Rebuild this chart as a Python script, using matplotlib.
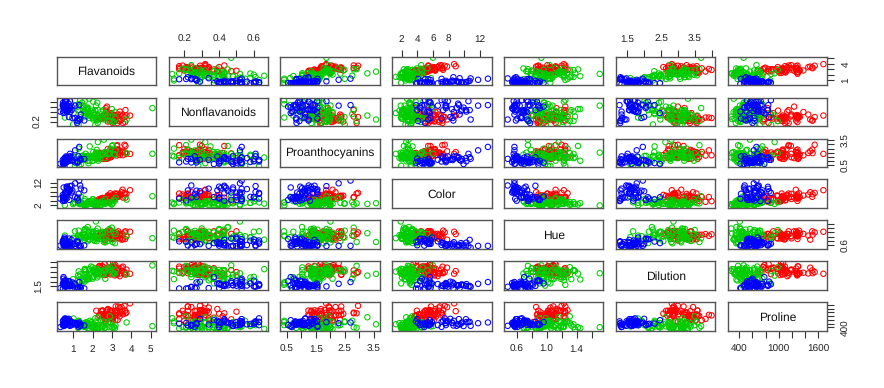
import matplotlib
matplotlib.use('Agg')
from matplotlib import pyplot as plt
import numpy as np

plt.rcParams['font.family'] = ['Liberation Sans', 'DejaVu Sans']
plt.rcParams['text.hinting'] = 'no_hinting'
plt.rcParams['text.hinting_factor'] = 1

class_counts = [59, 71, 48]
class_colors = ['#FF0000', '#00CD00', '#0000FF']

flavanoids = [3.06, 2.76, 3.24, 3.49, 2.69, 3.39, 2.52, 2.51, 2.98, 3.15, 3.32, 2.43, 2.76, 3.69, 3.64, 2.91, 3.14, 3.4, 3.93, 3.03,
              3.17, 2.41, 2.88, 2.37, 2.61, 2.68, 2.94, 2.19, 2.97, 2.33, 3.25, 3.19, 2.69, 2.74, 2.53, 2.98, 2.68, 2.43, 2.64, 3.04,
              3.29, 2.68, 3.56, 2.63, 3.0, 2.65, 3.17, 3.39, 2.92, 3.54, 3.27, 2.99, 3.74, 2.79, 2.9, 2.78, 3.0, 3.23, 3.67,
              0.57, 1.09, 1.41, 1.79, 3.1, 1.75, 2.65, 3.18, 2.0, 1.3, 1.28, 1.02, 2.86, 1.84, 2.89, 2.14, 1.57, 2.03, 1.32, 1.85,
              2.55, 2.26, 2.53, 1.58, 1.59, 2.21, 1.94, 1.69, 1.61, 1.69, 1.59, 1.5, 1.25, 1.46, 2.25, 2.26, 2.27, 0.99, 2.5, 3.75,
              2.99, 2.17, 1.36, 2.11, 1.64, 1.92, 1.84, 2.03, 1.76, 2.04, 2.92, 2.58, 2.27, 2.03, 2.01, 2.29, 2.17, 1.6, 2.09, 1.25,
              1.64, 2.79, 5.08, 2.13, 2.65, 3.03, 2.65, 3.15, 2.24, 2.45, 1.75,
              1.25, 1.22, 1.09, 1.2, 0.58, 0.66, 0.47, 0.6, 0.48, 0.6, 0.5, 0.5, 0.52, 0.8, 0.78, 0.55, 0.34, 0.65, 0.76, 1.39,
              1.57, 1.36, 1.28, 0.83, 0.58, 0.63, 0.83, 0.58, 1.31, 1.1, 0.92, 0.56, 0.6, 0.7, 0.68, 0.47, 0.92, 0.66, 0.84, 0.96,
              0.49, 0.51, 0.7, 0.61, 0.75, 0.69, 0.68, 0.76]
nonflavanoids = [0.28, 0.26, 0.3, 0.24, 0.39, 0.34, 0.3, 0.31, 0.29, 0.22, 0.22, 0.26, 0.29, 0.43, 0.29, 0.3, 0.33, 0.4, 0.32, 0.17,
                 0.24, 0.25, 0.27, 0.26, 0.28, 0.47, 0.34, 0.27, 0.37, 0.26, 0.29, 0.22, 0.42, 0.5, 0.29, 0.26, 0.34, 0.29, 0.28, 0.2,
                 0.34, 0.27, 0.17, 0.32, 0.28, 0.3, 0.27, 0.21, 0.32, 0.32, 0.17, 0.22, 0.32, 0.39, 0.21, 0.2, 0.26, 0.31, 0.19,
                 0.28, 0.63, 0.53, 0.32, 0.19, 0.45, 0.37, 0.26, 0.27, 0.55, 0.14, 0.37, 0.21, 0.27, 0.21, 0.13, 0.34, 0.24, 0.43, 0.35,
                 0.43, 0.3, 0.26, 0.4, 0.61, 0.22, 0.3, 0.43, 0.4, 0.48, 0.42, 0.52, 0.5, 0.58, 0.25, 0.17, 0.32, 0.14, 0.29, 0.24,
                 0.45, 0.26, 0.29, 0.34, 0.37, 0.32, 0.66, 0.37, 0.48, 0.39, 0.29, 0.24, 0.26, 0.6, 0.42, 0.43, 0.52, 0.3, 0.34, 0.43,
                 0.37, 0.32, 0.47, 0.43, 0.3, 0.21, 0.37, 0.39, 0.58, 0.4, 0.42,
                 0.21, 0.24, 0.27, 0.17, 0.6, 0.63, 0.53, 0.63, 0.58, 0.53, 0.53, 0.37, 0.5, 0.47, 0.29, 0.43, 0.4, 0.47, 0.45, 0.34,
                 0.22, 0.24, 0.26, 0.61, 0.53, 0.61, 0.48, 0.63, 0.53, 0.52, 0.5, 0.5, 0.6, 0.4, 0.41, 0.52, 0.43, 0.4, 0.39, 0.27,
                 0.4, 0.48, 0.44, 0.52, 0.43, 0.43, 0.53, 0.56]
proanthocyanins = [2.29, 1.28, 2.81, 2.18, 1.82, 1.97, 1.98, 1.25, 1.98, 1.85, 2.38, 1.57, 1.81, 2.81, 2.96, 1.46, 1.97, 1.72, 1.86, 1.66,
                   2.1, 1.98, 1.69, 1.46, 1.66, 1.92, 1.45, 1.35, 1.76, 1.98, 2.38, 1.95, 1.97, 1.35, 1.54, 1.86, 1.36, 1.44, 1.37, 2.08,
                   2.34, 1.48, 1.7, 1.66, 2.03, 1.25, 2.19, 2.14, 2.38, 2.08, 2.91, 2.29, 1.87, 1.68, 1.62, 2.45, 2.03, 1.66, 2.04,
                   0.42, 0.41, 0.62, 0.73, 1.87, 1.03, 2.08, 2.28, 1.04, 0.42, 2.5, 1.46, 1.87, 1.03, 1.96, 1.65, 1.15, 1.46, 0.95, 2.76,
                   1.95, 1.43, 1.77, 1.4, 1.62, 2.35, 1.46, 1.56, 1.34, 1.35, 1.38, 1.64, 1.63, 1.62, 1.99, 1.35, 3.28, 1.56, 1.77, 1.95,
                   2.81, 1.4, 1.35, 1.31, 1.42, 1.48, 1.42, 1.63, 1.63, 2.08, 2.49, 3.58, 1.22, 1.05, 1.44, 1.04, 2.01, 1.53, 1.61, 0.83,
                   1.87, 1.83, 1.87, 1.71, 2.01, 2.91, 1.35, 1.77, 1.76, 1.9, 1.35,
                   0.94, 0.83, 0.83, 0.84, 1.25, 0.94, 0.8, 1.1, 0.88, 0.81, 0.75, 0.64, 0.55, 1.02, 1.14, 1.3, 0.68, 0.86, 1.25, 1.14,
                   1.25, 1.26, 1.56, 1.87, 1.4, 1.55, 1.56, 1.14, 2.7, 2.29, 1.04, 0.8, 0.96, 0.94, 1.03, 1.15, 1.46, 0.97, 1.54, 1.11,
                   0.73, 0.64, 1.24, 1.06, 1.41, 1.35, 1.46, 1.35]
color_intensity = [5.64, 4.38, 5.68, 7.8, 4.32, 6.75, 5.25, 5.05, 5.2, 7.22, 5.75, 5.0, 5.6, 5.4, 7.5, 7.3, 6.2, 6.6, 8.7, 5.1,
                   5.65, 4.5, 3.8, 3.93, 3.52, 3.58, 4.8, 3.95, 4.5, 4.7, 5.7, 6.9, 3.84, 5.4, 4.2, 5.1, 4.6, 4.25, 3.7, 5.1,
                   6.13, 4.28, 5.43, 4.36, 5.04, 5.24, 4.9, 6.1, 6.2, 8.9, 7.2, 5.6, 7.05, 6.3, 5.85, 6.25, 6.38, 6.0, 6.8,
                   1.95, 3.27, 5.75, 3.8, 4.45, 2.95, 4.6, 5.3, 4.68, 3.17, 2.85, 3.05, 3.38, 3.74, 3.35, 3.21, 3.8, 4.6, 2.65, 3.4,
                   2.57, 2.5, 3.9, 2.2, 4.8, 3.05, 2.62, 2.45, 2.6, 2.8, 1.74, 2.4, 3.6, 3.05, 2.15, 3.25, 2.6, 2.5, 2.9, 4.5,
                   2.3, 3.3, 2.45, 2.8, 2.06, 2.94, 2.7, 3.4, 3.3, 2.7, 2.65, 2.9, 2.0, 3.8, 3.08, 2.9, 1.9, 1.95, 2.06, 3.4,
                   1.28, 3.25, 6.0, 2.08, 2.6, 2.8, 2.76, 3.94, 3.0, 2.12, 2.6,
                   4.1, 5.4, 5.7, 5.0, 5.45, 7.1, 3.85, 5.0, 5.7, 4.92, 4.6, 5.6, 4.35, 4.4, 8.21, 4.0, 4.9, 7.65, 8.42, 9.4,
                   8.6, 10.8, 7.1, 10.52, 7.6, 7.9, 9.01, 7.5, 13.0, 11.75, 7.65, 5.88, 5.58, 5.28, 9.58, 6.62, 10.68, 10.26, 8.66, 8.5,
                   5.5, 9.9, 9.7, 7.7, 7.3, 10.2, 9.3, 9.2]
hue = [1.04, 1.05, 1.03, 0.86, 1.04, 1.05, 1.02, 1.06, 1.08, 1.01, 1.25, 1.17, 1.15, 1.25, 1.2, 1.28, 1.07, 1.13, 1.23, 0.96,
       1.09, 1.03, 1.11, 1.09, 1.12, 1.13, 0.92, 1.02, 1.25, 1.04, 1.19, 1.09, 1.23, 1.25, 1.1, 1.04, 1.09, 1.01, 1.18, 0.89,
       0.95, 0.91, 0.88, 0.82, 0.88, 0.87, 1.04, 0.91, 1.07, 1.12, 1.12, 1.24, 1.01, 1.13, 0.92, 0.98, 0.94, 1.07, 0.89,
       1.05, 1.25, 0.98, 1.23, 1.22, 1.45, 1.19, 1.12, 1.12, 1.02, 1.28, 0.906, 1.36, 0.98, 1.31, 0.99, 1.23, 1.19, 0.96, 1.06,
       1.19, 1.38, 1.16, 1.31, 0.84, 0.79, 1.23, 1.33, 1.36, 1.0, 1.07, 1.08, 1.05, 0.96, 1.15, 1.16, 1.16, 0.95, 1.23, 1.04,
       1.42, 1.27, 1.04, 0.8, 0.94, 1.04, 0.86, 1.0, 0.88, 0.86, 0.96, 0.75, 0.9, 1.23, 1.1, 0.93, 1.71, 0.95, 1.06, 0.7,
       0.93, 0.8, 0.93, 0.92, 0.73, 0.75, 0.86, 0.69, 0.97, 0.89, 0.79,
       0.76, 0.74, 0.66, 0.78, 0.75, 0.73, 0.75, 0.82, 0.81, 0.89, 0.77, 0.7, 0.89, 0.91, 0.65, 0.6, 0.58, 0.54, 0.55, 0.57,
       0.59, 0.48, 0.61, 0.56, 0.58, 0.6, 0.57, 0.67, 0.57, 0.57, 0.56, 0.96, 0.87, 0.68, 0.7, 0.78, 0.85, 0.72, 0.74, 0.67,
       0.66, 0.57, 0.62, 0.64, 0.7, 0.59, 0.6, 0.61]
dilution = [3.92, 3.4, 3.17, 3.45, 2.93, 2.85, 3.58, 3.58, 2.85, 3.55, 3.17, 2.82, 2.9, 2.73, 3.0, 2.88, 2.65, 2.57, 2.82, 3.36,
            3.71, 3.52, 4.0, 3.63, 3.82, 3.2, 3.22, 2.77, 3.4, 3.59, 2.71, 2.88, 2.87, 3.0, 2.87, 3.47, 2.78, 3.18, 2.69, 3.53,
            3.38, 3.0, 3.56, 3.0, 3.35, 3.33, 3.44, 3.33, 2.75, 3.1, 2.91, 3.37, 3.26, 2.93, 3.2, 3.03, 3.31, 2.84, 2.87,
            1.82, 1.67, 1.59, 2.46, 2.87, 2.23, 2.3, 3.18, 3.48, 1.93, 3.07, 1.82, 3.16, 2.78, 3.5, 3.13, 2.14, 2.48, 2.52, 2.31,
            3.13, 3.12, 3.14, 2.72, 2.01, 3.08, 3.16, 2.26, 3.21, 2.75, 3.21, 2.27, 2.65, 2.06, 3.3, 2.96, 2.63, 2.26, 2.74, 2.77,
            2.83, 2.96, 2.77, 3.38, 2.44, 3.57, 3.3, 3.17, 2.42, 3.02, 3.26, 2.81, 2.78, 2.5, 2.31, 3.19, 2.87, 3.33, 2.96, 2.12,
            3.05, 3.39, 3.69, 3.12, 3.1, 3.64, 3.28, 2.84, 2.44, 2.78, 2.57,
            1.29, 1.42, 1.36, 1.29, 1.51, 1.58, 1.27, 1.69, 1.82, 2.15, 2.31, 2.47, 2.06, 2.05, 2.0, 1.68, 1.33, 1.86, 1.62, 1.33,
            1.3, 1.47, 1.33, 1.51, 1.55, 1.48, 1.64, 1.73, 1.96, 1.78, 1.58, 1.82, 2.11, 1.75, 1.68, 1.75, 1.56, 1.75, 1.8, 1.92,
            1.83, 1.63, 1.71, 1.74, 1.56, 1.56, 1.62, 1.6]
proline = [1065, 1050, 1185, 1480, 735, 1450, 1290, 1295, 1045, 1045, 1510, 1280, 1320, 1150, 1547, 1310, 1280, 1130, 1680, 845,
           780, 770, 1035, 1015, 845, 830, 1195, 1285, 915, 1035, 1285, 1515, 990, 1235, 1095, 920, 880, 1105, 1020, 760,
           795, 1035, 1095, 680, 885, 1080, 1065, 985, 1060, 1260, 1150, 1265, 1190, 1375, 1060, 1120, 970, 1270, 1285,
           520, 680, 450, 630, 420, 355, 678, 502, 510, 750, 718, 870, 410, 472, 985, 886, 428, 392, 500, 750,
           463, 278, 714, 630, 515, 520, 450, 495, 562, 680, 625, 480, 450, 495, 290, 345, 937, 625, 428, 660,
           406, 710, 562, 438, 415, 672, 315, 510, 488, 312, 680, 562, 325, 607, 434, 385, 407, 495, 345, 372,
           564, 625, 465, 365, 380, 380, 378, 352, 466, 342, 580,
           630, 530, 560, 600, 650, 695, 720, 515, 580, 590, 600, 780, 520, 550, 855, 830, 415, 625, 650, 550,
           500, 480, 425, 675, 640, 725, 480, 880, 660, 620, 520, 680, 570, 675, 615, 520, 695, 685, 750, 630,
           510, 470, 660, 740, 750, 835, 840, 560]

names = ['Flavanoids', 'Nonflavanoids', 'Proanthocyanins', 'Color', 'Hue', 'Dilution', 'Proline']
columns = [flavanoids, nonflavanoids, proanthocyanins, color_intensity, hue, dilution, proline]

# ticks of each variable, with the labels R kept on the horizontal and vertical axes
ticks = [[1, 2, 3, 4, 5],
         [0.2, 0.3, 0.4, 0.5, 0.6],
         [0.5, 1, 1.5, 2, 2.5, 3, 3.5],
         [2, 4, 6, 8, 10, 12],
         [0.6, 0.8, 1, 1.2, 1.4, 1.6],
         [1.5, 2, 2.5, 3, 3.5, 4],
         [400, 600, 800, 1000, 1200, 1400, 1600]]
x_labels = [['1', '2', '3', '4', '5'],
            ['0.2', '', '0.4', '', '0.6'],
            ['0.5', '', '1.5', '', '2.5', '', '3.5'],
            ['2', '4', '6', '8', '', '12'],
            ['0.6', '', '1.0', '', '1.4', ''],
            ['1.5', '', '2.5', '', '3.5', ''],
            ['400', '', '', '1000', '', '', '1600']]
y_labels = [['1', '', '', '4', ''],
            ['0.2', '', '', '', ''],
            ['0.5', '', '', '', '', '', '3.5'],
            ['2', '', '', '', '', '12'],
            ['0.6', '', '', '', '', ''],
            ['1.5', '', '', '', '', ''],
            ['400', '', '', '', '', '', '']]

W, H = 884, 388
LEFT, TOP = 56.7, 56.7
BOX_W, BOX_H = 99.4, 28.4
STEP_X, STEP_Y = 111.83, 40.93
n = len(names)

colors = np.repeat(class_colors, class_counts)
fig = plt.figure(figsize=(W / 100, H / 100), dpi=100)


def limits(values):
    lo, hi = min(values), max(values)
    pad = 0.04 * (hi - lo)
    return lo - pad, hi + pad


for row in range(n):
    for col in range(n):
        x0 = LEFT + col * STEP_X
        y0 = TOP + row * STEP_Y
        ax = fig.add_axes([x0 / W, 1 - (y0 + BOX_H) / H, BOX_W / W, BOX_H / H])
        for spine in ax.spines.values():
            spine.set_linewidth(1.0)
            spine.set_color('#555555')
        ax.set_xlim(limits(columns[col]))
        ax.set_ylim(limits(columns[row]))
        ax.set_xticks([])
        ax.set_yticks([])

        if row == col:
            ax.text(0.5, 0.47, names[row], transform=ax.transAxes, ha='center', va='center', fontsize=8.75, color='#111111')
        else:
            ax.scatter(columns[col], columns[row], s=15, facecolors='none', edgecolors=colors, linewidths=0.75)

        tick_style = dict(length=4.8, width=0.8, color='#333333', labelsize=7.5, labelcolor='#222222')
        if row == 0 and col % 2 == 1:
            ax.set_xticks(ticks[col], x_labels[col])
            ax.tick_params(axis='x', top=True, bottom=False, labeltop=True, labelbottom=False, pad=4, **tick_style)
        if row == n - 1 and col % 2 == 0:
            ax.set_xticks(ticks[col], x_labels[col])
            ax.tick_params(axis='x', pad=5.5, **tick_style)
        if col == 0 and row % 2 == 1:
            ax.set_yticks(ticks[row], y_labels[row], rotation=90, va='center')
            ax.tick_params(axis='y', pad=5, **tick_style)
        if col == n - 1 and row % 2 == 0:
            ax.set_yticks(ticks[row], y_labels[row], rotation=90, va='center')
            ax.tick_params(axis='y', left=False, right=True, labelleft=False, labelright=True, pad=5.5, **tick_style)

fig.savefig('out.png', dpi=100)
